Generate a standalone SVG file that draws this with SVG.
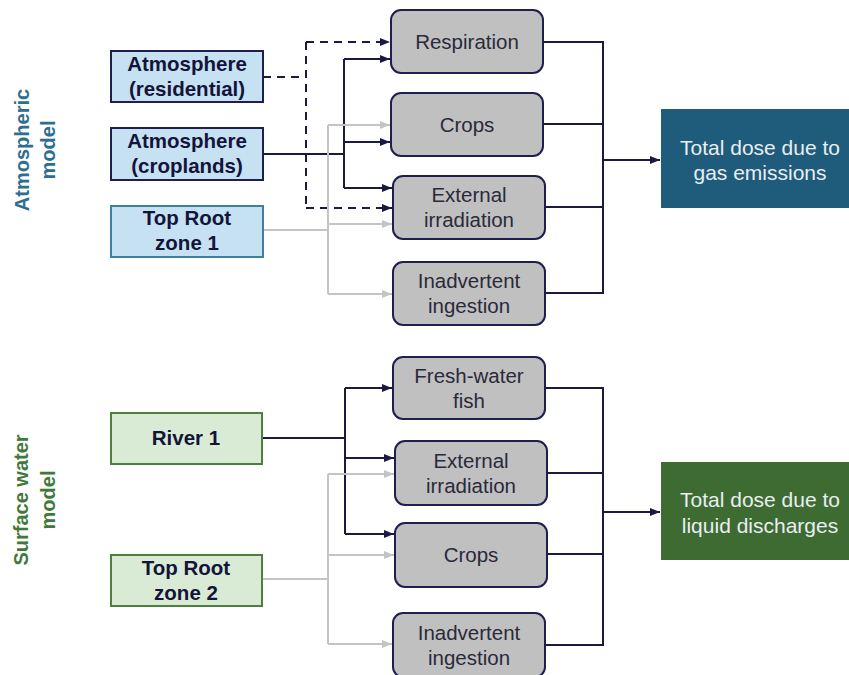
<svg xmlns="http://www.w3.org/2000/svg" width="849" height="675" viewBox="0 0 849 675">
<style>
text{font-family:"Liberation Sans",Arial,sans-serif;font-size:20px;text-anchor:middle}
.src{stroke-width:2}
.blue{fill:#C6E2F2;stroke:#1F1F4F}
.blue2{fill:#C6E2F2;stroke:#3F7F9F}
.green{fill:#DAEBD5;stroke:#4F7F3F}
.lb{font-weight:bold;fill:#14143A;font-size:20.5px}
.gray{fill:#C0C0C0;stroke:#1F1F4F;stroke-width:2}
.gt{fill:#2A2A3A;font-size:20.5px}
.dark{fill:none;stroke:#1A1A40;stroke-width:2}
.dash{stroke-dasharray:8 6}
.light{fill:none;stroke:#C4C4C4;stroke-width:2}
.wt{fill:#E8EEF2;font-size:21px}
.side{font-weight:bold}
</style>
<defs>
<marker id="ad" viewBox="0 0 10 10" refX="10" refY="5" markerWidth="5" markerHeight="5" orient="auto" markerUnits="strokeWidth"><path d="M0,1 L10,5 L0,9 z" fill="#1A1A40"/></marker>
<marker id="al" viewBox="0 0 10 10" refX="10" refY="5" markerWidth="5" markerHeight="5" orient="auto" markerUnits="strokeWidth"><path d="M0,1 L10,5 L0,9 z" fill="#C4C4C4"/></marker>
</defs>

<g id="connectors">
<path class="dark dash" d="M263,77 H306"/>
<path class="dark dash" d="M306,42 V208"/>
<path class="dark dash" d="M306,42 H390" marker-end="url(#ad)"/>
<path class="dark dash" d="M306,208 H392" marker-end="url(#ad)"/>
<path class="dark" d="M263,154 H344"/>
<path class="dark" d="M344,59 V188"/>
<path class="dark" d="M344,59 H390" marker-end="url(#ad)"/>
<path class="dark" d="M344,142 H390" marker-end="url(#ad)"/>
<path class="dark" d="M344,188 H392" marker-end="url(#ad)"/>
<path class="light" d="M263,230 H328"/>
<path class="light" d="M328,125 V294"/>
<path class="light" d="M328,125 H390" marker-end="url(#al)"/>
<path class="light" d="M328,224 H392" marker-end="url(#al)"/>
<path class="light" d="M328,294 H392" marker-end="url(#al)"/>
<path class="dark" d="M543,42 H603 V293 H545"/>
<path class="dark" d="M543,124 H603"/>
<path class="dark" d="M545,207 H603"/>
<path class="dark" d="M603,160 H660" marker-end="url(#ad)"/>
<path class="dark" d="M262,438 H345"/>
<path class="dark" d="M345,388 V534"/>
<path class="dark" d="M345,388 H392" marker-end="url(#ad)"/>
<path class="dark" d="M345,458 H394" marker-end="url(#ad)"/>
<path class="dark" d="M345,534 H394" marker-end="url(#ad)"/>
<path class="light" d="M262,579 H328"/>
<path class="light" d="M328,474 V644"/>
<path class="light" d="M328,474 H394" marker-end="url(#al)"/>
<path class="light" d="M328,555 H394" marker-end="url(#al)"/>
<path class="light" d="M328,644 H392" marker-end="url(#al)"/>
<path class="dark" d="M545,388 H603 V645 H545"/>
<path class="dark" d="M547,473 H603"/>
<path class="dark" d="M547,554 H603"/>
<path class="dark" d="M603,512 H660" marker-end="url(#ad)"/>
</g>

<g id="label-atmospheric">
<text class="side" fill="#2F6E8E" transform="translate(29,150) rotate(-90)">Atmospheric</text>
<text class="side" fill="#2F6E8E" transform="translate(55,150) rotate(-90)">model</text>
</g>
<g id="label-surface">
<text class="side" fill="#3F7A3A" transform="translate(28,500) rotate(-90)">Surface water</text>
<text class="side" fill="#3F7A3A" transform="translate(55,500) rotate(-90)">model</text>
</g>

<g id="atm-residential">
<rect class="blue src" x="111" y="51" width="152" height="51"/>
<text class="lb" x="187" y="71">Atmosphere</text>
<text class="lb" x="187" y="96">(residential)</text>
</g>
<g id="atm-croplands">
<rect class="blue src" x="111" y="128" width="152" height="52"/>
<text class="lb" x="187" y="148">Atmosphere</text>
<text class="lb" x="187" y="173">(croplands)</text>
</g>
<g id="top-root-1">
<rect class="blue2 src" x="111" y="206" width="152" height="51"/>
<text class="lb" x="187" y="225">Top Root</text>
<text class="lb" x="187" y="250">zone 1</text>
</g>

<g id="respiration">
<rect class="gray" x="391" y="10" width="152" height="63" rx="10"/>
<text class="gt" x="467" y="49">Respiration</text>
</g>
<g id="crops-1">
<rect class="gray" x="391" y="93" width="152" height="63" rx="10"/>
<text class="gt" x="467" y="132">Crops</text>
</g>
<g id="ext-irr-1">
<rect class="gray" x="393" y="176" width="152" height="63" rx="10"/>
<text class="gt" x="469" y="202">External</text>
<text class="gt" x="469" y="227">irradiation</text>
</g>
<g id="inadv-1">
<rect class="gray" x="393" y="262" width="152" height="63" rx="10"/>
<text class="gt" x="469" y="288">Inadvertent</text>
<text class="gt" x="469" y="313">ingestion</text>
</g>

<g id="total-gas">
<rect x="661" y="109" width="190" height="99" fill="#1F5B7B"/>
<text class="wt" x="760" y="155">Total dose due to</text>
<text class="wt" x="760" y="180">gas emissions</text>
</g>

<g id="river-1">
<rect class="green src" x="111" y="413" width="151" height="51"/>
<text class="lb" x="186" y="445">River 1</text>
</g>
<g id="top-root-2">
<rect class="green src" x="111" y="555" width="151" height="51"/>
<text class="lb" x="186" y="575">Top Root</text>
<text class="lb" x="186" y="600">zone 2</text>
</g>

<g id="fresh-water-fish">
<rect class="gray" x="393" y="357" width="152" height="62" rx="10"/>
<text class="gt" x="469" y="383">Fresh-water</text>
<text class="gt" x="469" y="408">fish</text>
</g>
<g id="ext-irr-2">
<rect class="gray" x="395" y="441" width="152" height="64" rx="10"/>
<text class="gt" x="471" y="468">External</text>
<text class="gt" x="471" y="493">irradiation</text>
</g>
<g id="crops-2">
<rect class="gray" x="395" y="523" width="152" height="64" rx="10"/>
<text class="gt" x="471" y="562">Crops</text>
</g>
<g id="inadv-2">
<rect class="gray" x="393" y="613" width="152" height="64" rx="10"/>
<text class="gt" x="469" y="640">Inadvertent</text>
<text class="gt" x="469" y="665">ingestion</text>
</g>

<g id="total-liquid">
<rect x="661" y="462" width="190" height="98" fill="#3E6B31"/>
<text class="wt" x="760" y="507">Total dose due to</text>
<text class="wt" x="760" y="533">liquid discharges</text>
</g>
</svg>
